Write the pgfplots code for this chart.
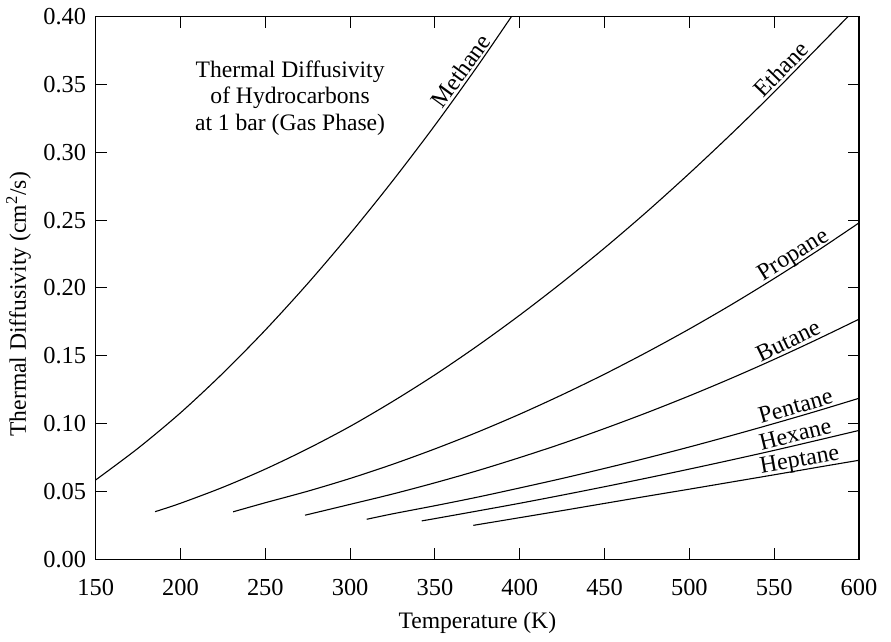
\documentclass[border=0pt]{standalone}
\usepackage{fontspec}
\setmainfont{Liberation Serif}
\usepackage{pgfplots}
\pgfplotsset{compat=1.18}

\newcommand{\ticksize}{\fontsize{12.2}{14}\selectfont}
\newcommand{\labsize}{\fontsize{11.8}{13.25}\selectfont}
\newcommand{\curvesize}{\fontsize{12}{14}\selectfont}

\tikzset{curvename/.style={font=\curvesize, anchor=base, inner sep=0pt}}

\begin{document}
\begin{tikzpicture}
\path[use as bounding box] (-47.85pt,-41.35pt) rectangle (397.65pt,279.65pt);
\begin{axis}[
  at={(0pt,0pt)}, anchor=south west,
  scale only axis, width=381.65pt, height=271.3pt,
  xmin=150, xmax=600, ymin=0, ymax=0.40,
  xtick={150,200,250,300,350,400,450,500,550,600},
  ytick={0,0.05,0.10,0.15,0.20,0.25,0.30,0.35,0.40},
  tick align=inside, tick pos=both,
  major tick length=5.5pt,
  every tick/.style={black, line width=0.5pt},
  axis line style={black, line width=0.6pt},
  /pgf/number format/assume math mode=true,
  ticklabel style={font=\ticksize},
  yticklabel style={/pgf/number format/fixed, /pgf/number format/fixed zerofill,
    /pgf/number format/precision=2, xshift=-1.3pt},
  xticklabel style={yshift=-6.4pt},
  every axis x label/.style={at={(axis description cs:0.5,-0.1174)}, anchor=center, font=\labsize},
  every axis y label/.style={at={(axis description cs:-0.1011,0.470)}, rotate=90, anchor=center, font=\labsize},
  xlabel={Temperature (K)},
  ylabel={Thermal Diffusivity (cm\textsuperscript{2}/s)},
  clip=true,
  curve/.style={black, line width=0.55pt, smooth},
]
% Methane
\addplot[curve] coordinates {
 (150,0.0585) (175,0.0819) (200,0.1080) (225,0.1372) (250,0.1690) (275,0.2033)
 (300,0.2400) (325,0.2789) (350,0.3200) (375,0.3634) (397,0.4036)};
% Ethane
\addplot[curve] coordinates {
 (185,0.0351) (200,0.0413) (225,0.0531) (250,0.0665) (275,0.0815) (300,0.0980)
 (325,0.1163) (350,0.1360) (375,0.1573) (400,0.1800) (425,0.2041) (450,0.2295)
 (475,0.2563) (500,0.2845) (525,0.3139) (550,0.3445) (575,0.3764) (594,0.4007)};
% Propane
\addplot[curve] coordinates {
 (231,0.0350) (250,0.0417) (275,0.0502) (300,0.0596) (325,0.0700) (350,0.0814)
 (375,0.0937) (400,0.1070) (425,0.1213) (450,0.1365) (475,0.1527) (500,0.1698)
 (525,0.1879) (550,0.2070) (575,0.2270) (600,0.2480)};
% Butane
\addplot[curve] coordinates {
 (273.4,0.0325) (300,0.0405) (325,0.0481) (350,0.0564) (375,0.0653) (400,0.0750)
 (425,0.0853) (450,0.0964) (475,0.1081) (500,0.1205) (525,0.1336) (550,0.1474)
 (575,0.1619) (600,0.1770)};
% Pentane
\addplot[curve] coordinates {
 (309.8,0.0295) (325,0.0335) (350,0.0395) (375,0.0458) (400,0.0526) (425,0.0596)
 (450,0.0670) (475,0.0747) (500,0.0828) (525,0.0913) (550,0.1001) (575,0.1092)
 (600,0.1187)};
% Hexane
\addplot[curve] coordinates {
 (342.2,0.0283) (350,0.0300) (375,0.0356) (400,0.0413) (425,0.0473) (450,0.0535)
 (475,0.0599) (500,0.0665) (525,0.0733) (550,0.0803) (575,0.0876) (600,0.0950)};
% Heptane
\addplot[curve] coordinates {
 (372.6,0.0250) (400,0.0307) (425,0.0359) (450,0.0412) (475,0.0465) (500,0.0517)
 (525,0.0570) (550,0.0623) (575,0.0677) (600,0.0730)};

% curve names, set just above their lines
\node[curvename, rotate=54, yshift=1.6pt] at (axis cs:370.7,0.3550) {Methane};
\node[curvename, rotate=46, yshift=1.6pt] at (axis cs:558.7,0.3556) {Ethane};
\node[curvename, rotate=32, yshift=1.6pt] at (axis cs:564.3,0.2184) {Propane};
\node[curvename, rotate=26, yshift=1.6pt] at (axis cs:561.0,0.1538) {Butane};
\node[curvename, rotate=16, yshift=1.6pt] at (axis cs:564.3,0.1053) {Pentane};
\node[curvename, rotate=14, yshift=1.6pt] at (axis cs:564.0,0.0844) {Hexane};
\node[curvename, rotate=10, yshift=1.6pt] at (axis cs:566.0,0.0658) {Heptane};

% heading inside the plot area
\node[align=center, font=\labsize] at (axis cs:264.6,0.340)
  {Thermal Diffusivity\\of Hydrocarbons\\at 1 bar (Gas Phase)};
\end{axis}
\end{tikzpicture}
\end{document}
